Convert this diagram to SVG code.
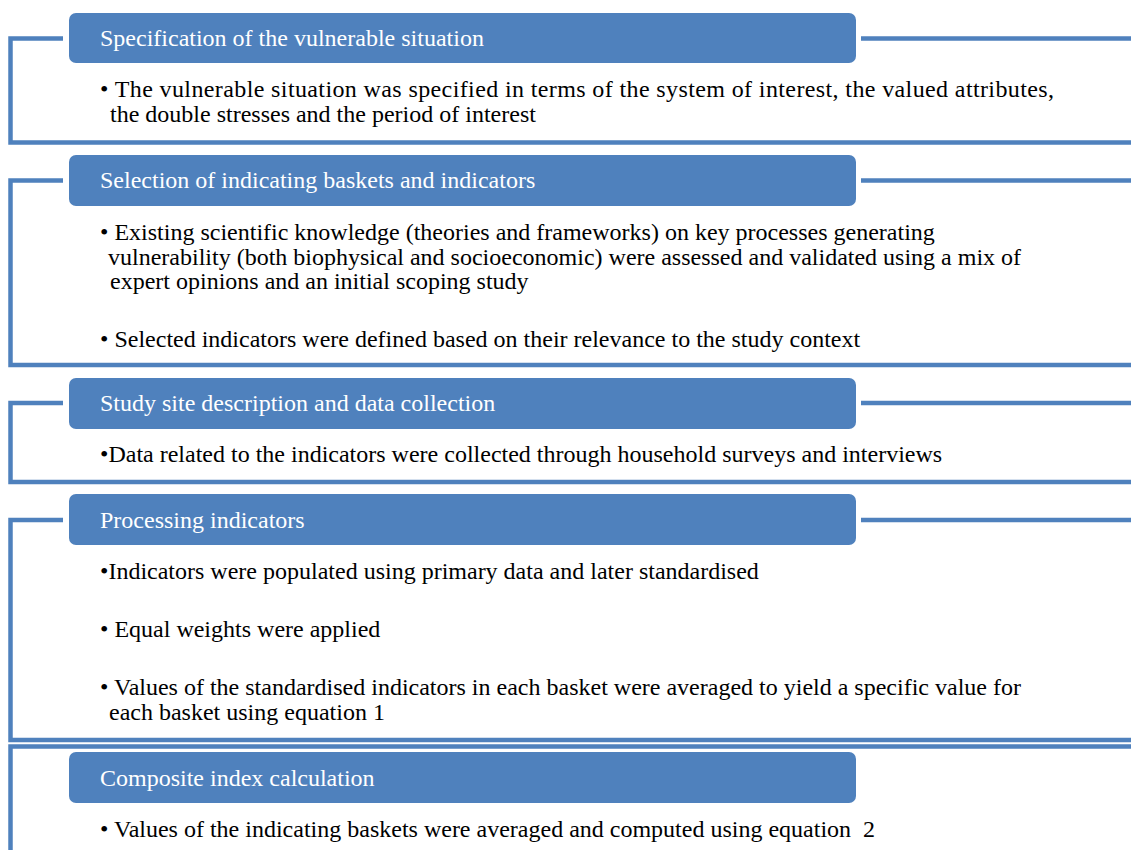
<svg xmlns="http://www.w3.org/2000/svg" width="1131" height="850" viewBox="0 0 1131 850">
<style>
.bar{fill:#4F81BD}
.ln{fill:none;stroke:#4F81BD;stroke-width:4.5}
.h{font-family:"Liberation Serif","Times New Roman",serif;font-size:24px;fill:#ffffff}
.b{font-family:"Liberation Serif","Times New Roman",serif;font-size:24px;fill:#000000}
</style>
<rect width="1131" height="850" fill="#ffffff"/>
<g id="connectors">
<path class="ln" d="M63,38.5 H10.5 V142.5 H1131"/>
<path class="ln" d="M861,38.5 H1131"/>
<path class="ln" d="M63,180.5 H10.5 V365 H1131"/>
<path class="ln" d="M861,180.5 H1131"/>
<path class="ln" d="M63,403 H10.5 V482 H1131"/>
<path class="ln" d="M861,403 H1131"/>
<path class="ln" d="M63,520 H10.5 V740 H1131"/>
<path class="ln" d="M861,520 H1131"/>
<path class="ln" d="M1131,746.5 H10.5 V852"/>
</g>
<g id="step1">
<rect class="bar" x="69" y="13" width="787" height="50" rx="7"/>
<text class="h" x="100" y="46">Specification of the vulnerable situation</text>
<text class="b" x="100" y="97" textLength="954" lengthAdjust="spacing">• The vulnerable situation was specified in terms of the system of interest, the valued attributes,</text>
<text class="b" x="110" y="122">the double stresses and the period of interest</text>
</g>
<g id="step2">
<rect class="bar" x="69" y="155" width="787" height="51" rx="7"/>
<text class="h" x="100" y="188">Selection of indicating baskets and indicators</text>
<text class="b" x="100" y="240">• Existing scientific knowledge (theories and frameworks) on key processes generating</text>
<text class="b" x="108" y="265">vulnerability (both biophysical and socioeconomic) were assessed and validated using a mix of</text>
<text class="b" x="110" y="289">expert opinions and an initial scoping study</text>
<text class="b" x="100" y="347">• Selected indicators were defined based on their relevance to the study context</text>
</g>
<g id="step3">
<rect class="bar" x="69" y="378" width="787" height="51" rx="7"/>
<text class="h" x="100" y="411">Study site description and data collection</text>
<text class="b" x="100" y="462">•Data related to the indicators were collected through household surveys and interviews</text>
</g>
<g id="step4">
<rect class="bar" x="69" y="494" width="787" height="51" rx="7"/>
<text class="h" x="100" y="528">Processing indicators</text>
<text class="b" x="100" y="579">•Indicators were populated using primary data and later standardised</text>
<text class="b" x="100" y="637">• Equal weights were applied</text>
<text class="b" x="100" y="695">• Values of the standardised indicators in each basket were averaged to yield a specific value for</text>
<text class="b" x="109" y="720">each basket using equation 1</text>
</g>
<g id="step5">
<rect class="bar" x="69" y="752" width="787" height="51" rx="7"/>
<text class="h" x="100" y="786">Composite index calculation</text>
<text class="b" x="100" y="837" xml:space="preserve">• Values of the indicating baskets were averaged and computed using equation  2</text>
</g>
</svg>
